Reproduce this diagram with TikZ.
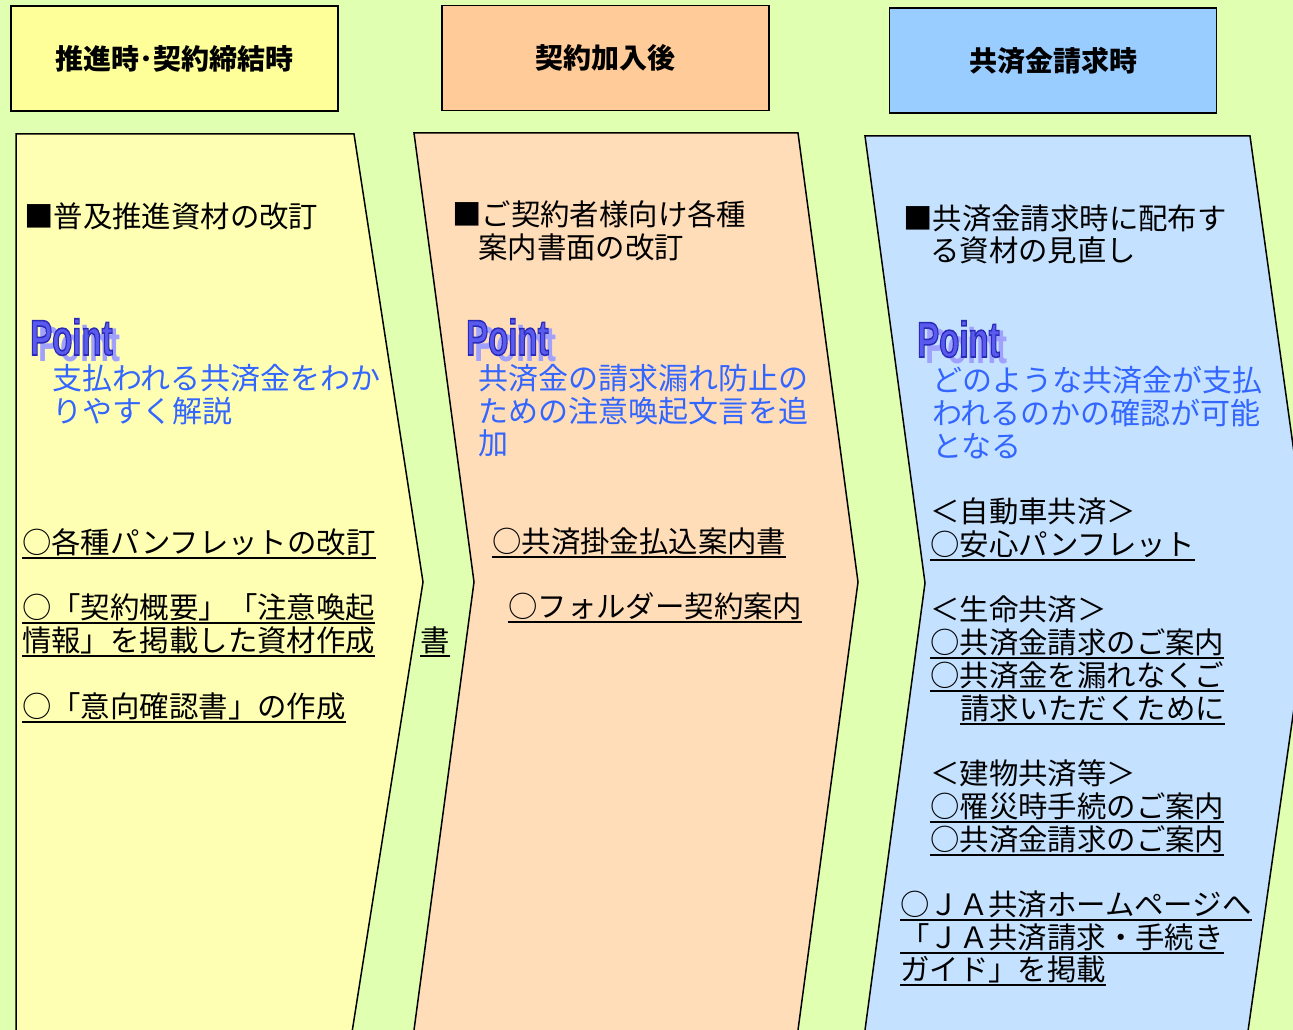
\documentclass[tikz,border=0pt]{standalone}
\usepackage{fontspec}
\setmainfont{Noto Sans CJK JP}
\newfontfamily\jpfont{Noto Sans CJK JP}
\newfontfamily\ptfont{Liberation Sans}
\definecolor{bgG}{HTML}{E0FFB0}
\definecolor{hY}{HTML}{FFFF99}
\definecolor{hO}{HTML}{FFCC99}
\definecolor{hB}{HTML}{99CCFF}
\definecolor{cY}{HTML}{FFFFB3}
\definecolor{cO}{HTML}{FFDDB9}
\definecolor{cB}{HTML}{C4E2FF}
\definecolor{ptblue}{HTML}{3366FF}
\definecolor{ptfill}{HTML}{5A5AEE}
\definecolor{ptshade}{HTML}{A0A0FF}
\newcommand\myul[1]{\setbox0\hbox{#1}\rlap{\rule[-6pt]{\wd0}{1.8pt}}\box0}
\newcommand\ptword{\scalebox{0.66}[1]{Point}}
\newcommand\ptoutlined{\special{pdf:code q 2 Tr 1.6 w 0.165 0.165 0.72 RG}\ptword\special{pdf:code Q}}
\newcommand\pointlogo[3]{%
  \node[ptstyle, text=ptshade] (#1s) at (#2+8,#3+6) {\ptword};
  \node[ptstyle, text=ptfill] (#1) at (#2,#3) {\ptoutlined};
}
\begin{document}
\begin{tikzpicture}[x=1pt,y=-1pt,
  hdr/.style={draw=black, line width=1.6pt, inner sep=0pt, minimum width=327pt,
    minimum height=105pt, font=\jpfont\bfseries\fontsize{28}{30}\selectfont},
  chev/.style={draw=black, line width=1.5pt},
  txt/.style={anchor=base west, inner sep=0pt, font=\jpfont\fontsize{29.4}{33}\selectfont, text=black},
  btxt/.style={txt, text=ptblue, font=\jpfont\fontsize{30}{33}\selectfont},
  ptstyle/.style={anchor=base west, inner sep=0pt, font=\ptfont\bfseries\fontsize{50}{50}\selectfont}]
\useasboundingbox (0,0) rectangle (1293,1030);
\clip (0,0) rectangle (1293,1030);
\fill[bgG] (0,0) rectangle (1293,1030);

% headers
\node[hdr, fill=hY] (h1) at (174.5,58.5) {推進時･契約締結時};
\node[hdr, fill=hO] (h2) at (605.5,58) {契約加入後};
\node[hdr, fill=hB] (h3) at (1053,60.5) {共済金請求時};

% chevrons
\draw[chev, fill=cY] (16,134) -- (354,134) -- (423,582) -- (350,1045) -- (16,1045) -- cycle;
\draw[chev, fill=cO] (414,133) -- (798,133) -- (858,582) -- (796,1045) -- (412,1045) -- (474,582) -- cycle;
\draw[chev, fill=cB] (865,136) -- (1250,136) -- (1312,582) -- (1246,1045) -- (863,1045) -- (925,583) -- cycle;

% column 1
\node[txt] (a1) at (24,227) {■普及推進資材の改訂};
\pointlogo{p1}{30}{355}
\node[btxt] (a2) at (52,389) {支払われる共済金をわか};
\node[btxt] (a3) at (52,422) {りやすく解説};
\node[txt] (a4) at (22,553) {\myul{○各種パンフレットの改訂}};
\node[txt] (a5) at (22,618) {\myul{○「契約概要」「注意喚起}};
\node[txt] (a6) at (22,651) {\myul{情報」を掲載した資材作成}};
\node[txt] (a7) at (22,717) {\myul{○「意向確認書」の作成}};
\node[txt] (a8) at (420,651) {\myul{書}};

% column 2
\node[txt] (b1) at (452,225) {■ご契約者様向け各種};
\node[txt] (b2) at (478,258) {案内書面の改訂};
\pointlogo{p2}{466}{355}
\node[btxt] (b3) at (478,389) {共済金の請求漏れ防止の};
\node[btxt] (b4) at (478,422) {ための注意喚起文言を追};
\node[btxt] (b5) at (478,454) {加};
\node[txt] (b6) at (492,552) {\myul{○共済掛金払込案内書}};
\node[txt] (b7) at (508,617) {\myul{○フォルダー契約案内}};

% column 3
\node[txt] (c1) at (903,229) {■共済金請求時に配布す};
\node[txt] (c2) at (930,261) {る資材の見直し};
\pointlogo{p3}{917}{357}
\node[btxt] (c3) at (932,391) {どのような共済金が支払};
\node[btxt] (c4) at (932,424) {われるのかの確認が可能};
\node[btxt] (c5) at (932,457) {となる};
\node[txt] (c6) at (930,522) {＜自動車共済＞};
\node[txt] (c7) at (930,555) {\myul{○安心パンフレット}};
\node[txt] (c8) at (930,620) {＜生命共済＞};
\node[txt] (c9) at (930,653) {\myul{○共済金請求のご案内}};
\node[txt] (c10) at (930,686) {\myul{○共済金を漏れなくご}};
\node[txt] (c11) at (960,719) {\myul{請求いただくために}};
\node[txt] (c12) at (930,784) {＜建物共済等＞};
\node[txt] (c13) at (930,817) {\myul{○罹災時手続のご案内}};
\node[txt] (c14) at (930,850) {\myul{○共済金請求のご案内}};
\node[txt] (c15) at (900,915) {\myul{○ＪＡ共済ホームページへ}};
\node[txt] (c16) at (900,948) {\myul{「ＪＡ共済請求・手続き}};
\node[txt] (c17) at (900,980) {\myul{ガイド」を掲載}};
\end{tikzpicture}
\end{document}
